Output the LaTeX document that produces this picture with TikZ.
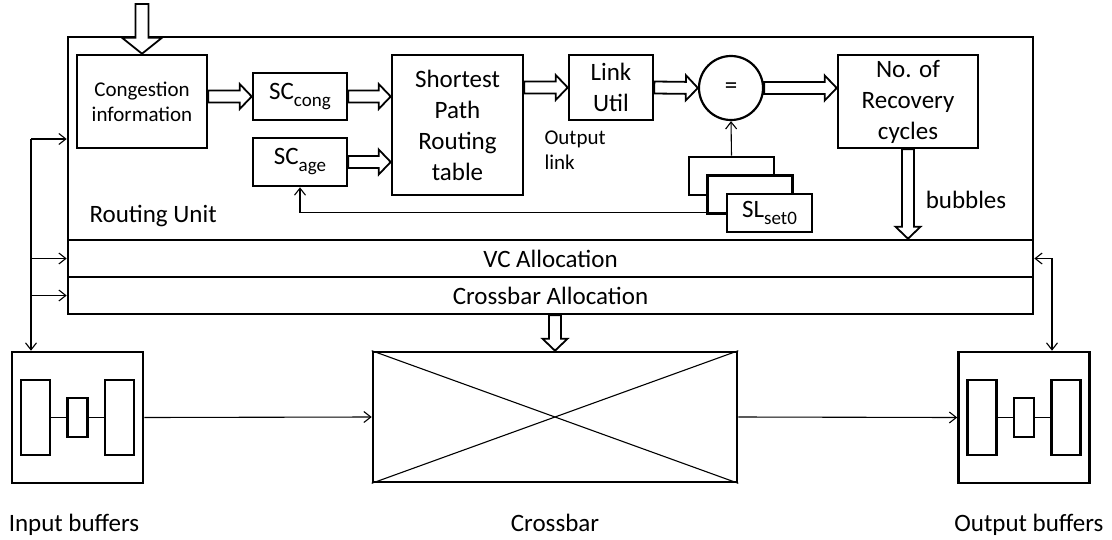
\documentclass[tikz,border=0pt]{standalone}
\usepackage{fontspec}
\setmainfont{Carlito}
\usepackage{tikz}
\usetikzlibrary{arrows.meta, positioning, calc}
\newcommand{\lowtext}[1]{\raisebox{-0.28em}{\fontsize{19}{19}\selectfont #1}}
\tikzset{
  block/.style={rectangle, draw, line width=2.6pt, align=center, inner sep=0pt,
    font=\fontsize{25}{31}\selectfont},
  band/.style={rectangle, draw, line width=2.6pt, minimum width=965pt, minimum height=37pt,
    inner sep=0pt, font=\fontsize{25}{30}\selectfont},
  slbox/.style={block, fill=white, minimum width=85pt, minimum height=38pt},
  cell/.style={rectangle, draw, line width=2.4pt, inner sep=0pt},
  tip/.tip={Straight Barb[length=7pt,width=11pt]},
  arrow/.style={-tip, line width=1.1pt},
  line/.style={line width=1.1pt},
  lbl/.style={font=\fontsize{25}{30}\selectfont},
  note/.style={font=\fontsize{21}{25}\selectfont},
  % hollow block arrow between two points
  fatarrow/.style n args={3}{draw, fill=white, line width=1.8pt, line join=miter,
    to path={let \p1=($(\tikztotarget)-(\tikztostart)$), \n1={veclen(\x1,\y1)} in
      ($(\tikztostart)!#1!90:(\tikztotarget)$)
      -- ($(\tikztostart)!{\n1-#3}!(\tikztotarget)!#1!90:(\tikztotarget)$)
      -- ($(\tikztostart)!{\n1-#3}!(\tikztotarget)!#2!90:(\tikztotarget)$)
      -- (\tikztotarget)
      -- ($(\tikztostart)!{\n1-#3}!(\tikztotarget)!#2!-90:(\tikztotarget)$)
      -- ($(\tikztostart)!{\n1-#3}!(\tikztotarget)!#1!-90:(\tikztotarget)$)
      -- ($(\tikztostart)!#1!-90:(\tikztotarget)$) -- cycle}},
  fat/.style={fatarrow={6pt}{12.5pt}{12pt}},
  bigfat/.style={fatarrow={6.5pt}{20pt}{16pt}}
}

\begin{document}
\begin{tikzpicture}[x=1pt, y=-1pt]
\useasboundingbox (0,0) rectangle (1112,539);

%--- router frame and allocators
\node[block, minimum width=965pt, minimum height=203pt] (ru) at (550.5,138.5) {};
\node[band] (vc) at (550.5,258.5) {VC Allocation};
\node[band] (xa) at (550.5,295.5) {Crossbar Allocation};
\node[lbl, anchor=west] (rulbl) at (86,216) {Routing Unit};

%--- routing unit blocks
\node[block, note, minimum width=130pt, minimum height=93pt] (cong) at (142,101.5) {Congestion\\information};
\node[block, minimum width=94pt, minimum height=47pt] (sccong) at (300,96.5) {SC\lowtext{cong}};
\node[block, minimum width=94pt, minimum height=48pt] (scage) at (300,162) {SC\lowtext{age}};
\node[block, minimum width=131pt, minimum height=140pt] (spr) at (457.5,125) {Shortest\\Path\\Routing\\table};
\node[block, minimum width=84pt, minimum height=65pt] (link) at (611,87.5) {Link\\Util};
\node[block, circle, minimum size=64pt, line width=2.2pt] (eq) at (731,88) {=};
\node[block, minimum width=140pt, minimum height=93pt] (recov) at (908,101.5) {No. of\\Recovery\\cycles};
\node[note, anchor=north west, align=left] (outlink) at (541,127) {Output\\link};
% stacked SL sets
\node[slbox] (sl1) at (731.5,176) {};
\node[slbox] (sl2) at (750,194.5) {};
\node[slbox] (sl3) at (769.5,213) {SL\lowtext{set0}};

%--- wide arrows
\coordinate (rin) at (142,4);
\draw[bigfat] (rin) to (cong.north);
\draw[fat] (cong.east |- sccong.west) to (sccong.west);
\draw[fat] (sccong.east) to (sccong.east -| spr.west);
\draw[fat] (scage.east) to (scage.east -| spr.west);
\draw[fat] (spr.east |- link.west) to (link.west);
\draw[fat] (link.east) to (eq.west);
\draw[fat] (eq.east) to (eq.east -| recov.west);
\draw[fat] (recov.south) to (recov.south |- vc.north);
\node[lbl] (bub) at (966,200) {bubbles};

% feedback and compare
\draw[arrow] ([yshift=2pt]sl2.south west) -| (scage.south);
\draw[arrow] (sl1.north) -- (eq.south);

%--- buffers
\foreach \b/\x in {inbuf/77.5, outbuf/1024} {
  \node[block, minimum size=131pt] (\b) at (\x,417.5) {};
  \node[cell, minimum width=29pt, minimum height=75pt] (\b-l) at ($(\b)+(-42,0)$) {};
  \node[cell, minimum width=20pt, minimum height=39pt] (\b-m) at (\b) {};
  \node[cell, minimum width=29pt, minimum height=75pt] (\b-r) at ($(\b)+(42,0)$) {};
  \draw[line] (\b-l.east) -- (\b-m.west) (\b-m.east) -- (\b-r.west);
}

%--- crossbar
\node[block, minimum width=364pt, minimum height=130pt] (xbar) at (555,417) {};
\draw[line] (xbar.north west) -- (xbar.south east) (xbar.south west) -- (xbar.north east);
\draw[fat] (xa.south -| xbar.north) to (xbar.north);

% data path
\draw[arrow] (inbuf.east) -- (xbar.west);
\draw[arrow] (xbar.east) -- (outbuf.west);

% control lines
\coordinate (lc) at (31,139);
\draw[arrow] (lc) -- (lc -| ru.west);
\draw[arrow] (lc) -- (lc |- inbuf.north);
\draw[arrow] (lc |- vc.west) -- (vc.west);
\draw[arrow] (lc |- xa.west) -- (xa.west);
\coordinate (rc) at (1052,0);
\draw[arrow, tip-tip] (vc.east) -| (rc |- outbuf.north);

%--- captions
\node[lbl, anchor=base] (inlbl) at (74,531) {Input buffers};
\node[lbl, anchor=base] (xblbl) at (555,531) {Crossbar};
\node[lbl, anchor=base east] (outlbl) at (1107,531) {Output buffers};
\end{tikzpicture}
\end{document}
